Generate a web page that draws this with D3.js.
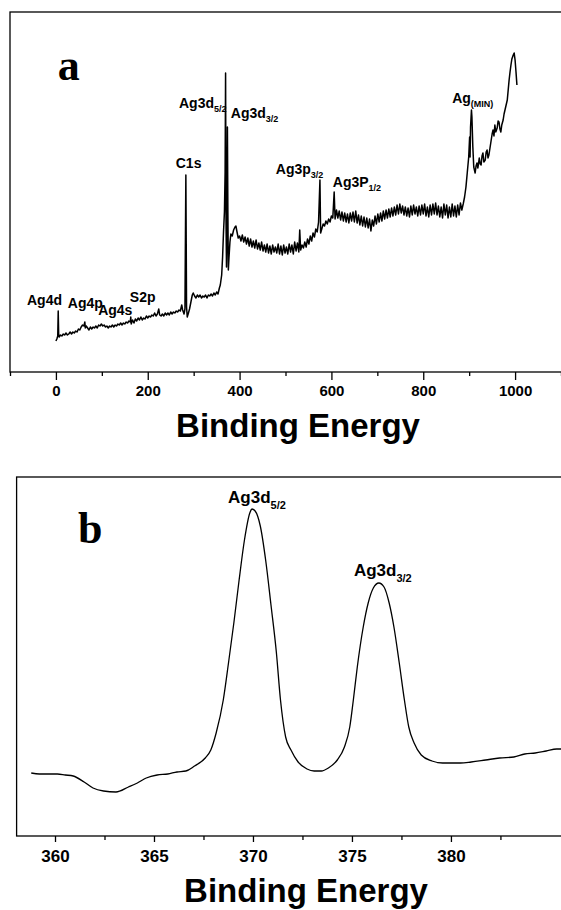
<!DOCTYPE html>
<html><head><meta charset="utf-8">
<script src="https://cdn.jsdelivr.net/npm/d3@7"></script>
<style>body{margin:0;background:#fff}svg{display:block}</style>
</head><body>
<svg id="c" width="561" height="910"></svg>
<script>
// ---------- Panel a: survey spectrum  [binding energy (eV), counts (a.u.)] ----------
const survey = [[0,31],[2,33],[4,36],[5,61],[6,38],[7,35],[10,37],[13,36],[16,38],[19,37],[22,39],[25,37],[28,38],[31,40],[34,38],[37,40],[40,39],[43,41],[46,40],[49,43],[52,42],[55,45],[58,47],[61,46],[63,50],[64,44],[66,46],[69,44],[72,42],[75,45],[78,43],[81,45],[84,44],[87,46],[90,44],[93,47],[96,46],[99,48],[102,46],[105,47],[108,45],[111,46],[114,44],[117,46],[120,45],[123,47],[126,45],[129,47],[132,46],[135,48],[138,47],[141,49],[144,47],[147,49],[150,48],[153,50],[156,49],[159,51],[162,50],[163,55],[164,48],[167,52],[170,49],[173,53],[176,51],[179,54],[182,52],[185,55],[188,52],[191,54],[194,53],[197,56],[200,54],[203,56],[206,55],[209,57],[212,56],[215,59],[218,56],[221,58],[224,63],[226,57],[229,56],[232,58],[235,56],[238,59],[241,57],[244,59],[247,57],[250,60],[253,58],[256,60],[259,59],[262,61],[265,60],[268,62],[271,61],[274,67],[276,62],[279,58],[281,63],[283,197],[284.5,65],[286,55],[288,58],[291,63],[294,70],[297,77],[299,79],[302,76],[305,74],[308,77],[311,75],[314,77],[317,74],[320,76],[323,75],[326,77],[329,74],[332,77],[335,76],[338,78],[341,76],[344,79],[347,77],[350,80],[353,78],[356,84],[358,87],[361,97],[363,115],[365,140],[367,160],[368.5,200],[369.5,299],[370.5,150],[371.5,105],[372.5,140],[373.5,245],[374.5,160],[375.5,102],[377,115],[379,130],[381,138],[384,136],[387,142],[390,145],[392,146],
[394,141],[397,134],[400,136],[403,131],[406,137],[409,130],[412,135],[415,128],[418,134],[421,126],[424,133],[427,125],[430,131],[433,124],[436,132],[439,123],[442,129],[445,122],[448,130],[451,121],[454,127],[457,120],[460,128],[463,119],[466,126],[469,118],[472,127],[475,120],[478,125],[481,119],[484,128],[487,118],[490,126],[493,117],[496,127],[499,119],[502,125],[505,118],[508,128],[511,120],[514,127],[517,118],[520,130],[523,121],[526,129],[529,120],
[531,142],[533,122],[536,127],[539,124],[542,130],[545,125],[548,133],[551,128],[554,136],[557,131],[560,139],[563,135],[566,143],[569,140],[572,150],[575,192],[576.5,139],[579,143],[582,148],[585,146],[588,151],[591,148],[594,153],[597,150],[600,156],[603,154],[606,180],
[608,153],[611,162],[614,154],[617,161],[620,152],[623,160],[626,151],[629,159],[632,150],[635,158],[638,149],[641,159],[644,151],[647,160],[650,150],[653,161],[656,149],[659,157],[662,147],[665,156],[668,146],[671,155],[674,145],[677,154],[680,144],[683,153],[686,141],[689,152],[692,146],[695,156],[698,148],[701,158],[704,150],[707,159],[710,151],[713,161],[716,153],[719,162],[722,154],[725,163],[728,155],[731,164],[734,156],[737,165],[740,157],[743,167],[746,158],[749,168],[752,159],[755,166],[758,157],[761,165],[764,156],[767,164],[770,155],[773,166],[776,157],[779,167],[782,158],[785,165],[788,156],[791,166],[794,157],[797,167],[800,158],[803,168],[806,156],[809,165],[812,155],[815,167],[818,157],[821,168],[824,158],[827,169],[830,157],[833,166],[836,155],[839,165],[842,154],[845,168],[848,157],[851,167],[854,154],[857,165],[860,155],[863,168],[866,156],[869,166],[872,155],[875,167],[878,157],[881,169],[884,162],
[887,168],[890,175],[893,185],[896,200],[899,215],[901,235],[902,215],[903,245],[905,262],[906,255],[908,225],[910,205],[913,199],[915,206],[917,209],[919,204],[922,214],[924,208],[926,207],[928,216],[930,219],[932,210],[935,212],[937,220],[939,222],[941,214],[943,217],[946,226],[948,232],[950,238],[952,242],[954,236],[956,247],[958,240],[961,244],[963,251],[965,250],[967,243],[969,240],[971,247],[974,252],[976,258],[978,262],[981,268],[983,272],[985,282],[987,292],[989,300],[991,307],[993,313],[996,317],[998,319],[1000,312],[1002,300],[1004,287]];
const surveyTicks = [-100,0,100,200,300,400,500,600,700,800,900,1000,1100];
const surveyTickLabels = [0,200,400,600,800,1000];
const surveyLabelText = ["Ag4d","Ag4p","Ag4s","S2p","C1s","Ag3d","Ag3d","Ag3p","Ag3P","Ag"];
const surveyLabelSub  = ["","","","","","5/2","3/2","3/2","1/2","(MIN)"];
const surveyLabelBE   = [-63,26,92,161,261,268,381,479,603,863];
const surveyLabelCnt  = [67,64,57,70,204,264,254,198,185,269];

// ---------- Panel b: Ag 3d high resolution  [binding energy (eV), counts (a.u.)] ----------
const hr = [[358.80,63],[359.21,62],[359.67,62],[360.12,62],[360.52,61],[360.92,60],[361.47,54],[361.92,48],[362.45,45],[363.08,44],[363.71,49],[364.16,53],[364.61,58],[365.16,61],[365.70,62],[366.16,64],[366.61,65],[367.05,70],[367.59,78],[367.87,86],[368.14,103],[368.50,136],[368.77,174],[369.04,214],[369.30,256],[369.57,296],[369.84,323],[369.95,327],[370.11,325],[370.37,310],[370.64,276],[370.91,231],[371.18,184],[371.39,136],[371.65,99],[371.92,86],[372.28,74],[372.73,67],[373.09,65],[373.45,65],[373.81,68],[374.26,76],[374.62,89],[374.89,109],[375.07,136],[375.27,169],[375.57,209],[375.82,233],[376.08,248],[376.36,253],[376.62,249],[376.88,233],[377.12,209],[377.39,173],[377.65,136],[377.87,109],[378.14,93],[378.50,81],[379.04,75],[379.58,73],[380.03,73],[380.48,73],[381.02,74],[381.75,76],[382.46,78],[383.18,79],[383.73,82],[384.26,83],[384.81,85],[385.34,87],[385.58,87]];
const hrMajorTicks = [360,365,370,375,380];
const hrMinorTicks = [362.5,367.5,372.5,377.5,382.5];
const hrLabelText = ["Ag3d","Ag3d"];
const hrLabelSub  = ["5/2","3/2"];
const hrLabelBE   = [368.74,375.10];
const hrLabelCnt  = [333,260];

const svg = d3.select("#c");
const FONT = "Liberation Sans, Arial, sans-serif";
const SERIF = "Liberation Serif, Times New Roman, serif";

function panel(opt){
  const g = svg.append("g");
  const x = d3.scaleLinear().domain(opt.xdom).range(opt.xr);
  const y = d3.scaleLinear().domain(opt.ydom).range(opt.yr);
  const id = "clip" + opt.key;
  svg.append("defs").append("clipPath").attr("id", id)
    .append("rect").attr("x", opt.xr[0]).attr("y", opt.yr[1])
    .attr("width", opt.xr[1]-opt.xr[0]).attr("height", opt.yr[0]-opt.yr[1]);
  g.append("rect").attr("x", opt.xr[0]).attr("y", opt.yr[1])
    .attr("width", opt.xr[1]-opt.xr[0]+5).attr("height", opt.yr[0]-opt.yr[1])
    .attr("fill","none").attr("stroke","#000").attr("stroke-width",1.3);
  g.append("path").datum(opt.data).attr("clip-path","url(#"+id+")")
    .attr("fill","none").attr("stroke","#000").attr("stroke-width",opt.lw)
    .attr("stroke-linejoin","round")
    .attr("d", d3.line().x(d=>x(d[0])).y(d=>y(d[1])).curve(opt.curve));
  const ax = g.append("g").attr("transform","translate(0,"+opt.yr[0]+")");
  ax.call(d3.axisBottom(x).tickValues(opt.minor).tickSize(opt.minorLen).tickFormat(""));
  ax.select(".domain").remove();
  const ax2 = g.append("g").attr("transform","translate(0,"+opt.yr[0]+")");
  ax2.call(d3.axisBottom(x).tickValues(opt.major).tickSize(opt.majorLen).tickPadding(opt.pad).tickFormat(d3.format("d")));
  ax2.select(".domain").remove();
  g.selectAll(".tick line").attr("stroke","#000").attr("stroke-width",1.3);
  ax2.selectAll(".tick text").attr("font-family",FONT).attr("font-weight","bold")
    .attr("font-size",opt.tickFs).attr("fill","#000");
  g.append("text").attr("x", opt.titleX).attr("y", opt.titleY).attr("text-anchor","middle")
    .attr("font-family",FONT).attr("font-weight","bold").attr("font-size",33).text("Binding Energy");
  g.append("text").attr("x", x(opt.letterPos[0])).attr("y", y(opt.letterPos[1]))
    .attr("font-family",SERIF).attr("font-weight","bold").attr("font-size",44).text(opt.letter);
  opt.labels.text.forEach((t,i)=>{
    const tx = g.append("text").attr("x", x(opt.labels.be[i])).attr("y", y(opt.labels.cnt[i]))
      .attr("font-family",FONT).attr("font-weight","bold").attr("font-size",opt.labFs).text(t);
    if(opt.labels.sub[i]){
      tx.append("tspan").attr("dy", opt.subDy).attr("font-size",opt.subFs).text(opt.labels.sub[i]);
    }
  });
}

panel({key:"a", xdom:[-100,1100], xr:[10,561], ydom:[0,360], yr:[372,12],
  data:survey, lw:1.5, curve:d3.curveLinear,
  major:surveyTickLabels, minor:surveyTicks.filter(t=>!surveyTickLabels.includes(t)),
  majorLen:8, minorLen:4, pad:5, tickFs:15,
  titleX:298, titleY:437, letter:"a", letterPos:[4,292],
  labels:{text:surveyLabelText, sub:surveyLabelSub, be:surveyLabelBE, cnt:surveyLabelCnt},
  labFs:14, subFs:9, subDy:4});

panel({key:"b", xdom:[358.06,385.58], xr:[16.6,561.4], ydom:[0,359], yr:[836,477],
  data:hr, lw:1.3, curve:d3.curveMonotoneX,
  major:hrMajorTicks, minor:hrMinorTicks,
  majorLen:6, minorLen:4, pad:8, tickFs:17,
  titleX:306, titleY:902, letter:"b", letterPos:[361.16,293],
  labels:{text:hrLabelText, sub:hrLabelSub, be:hrLabelBE, cnt:hrLabelCnt},
  labFs:17, subFs:11, subDy:6});
</script>
</body></html>
